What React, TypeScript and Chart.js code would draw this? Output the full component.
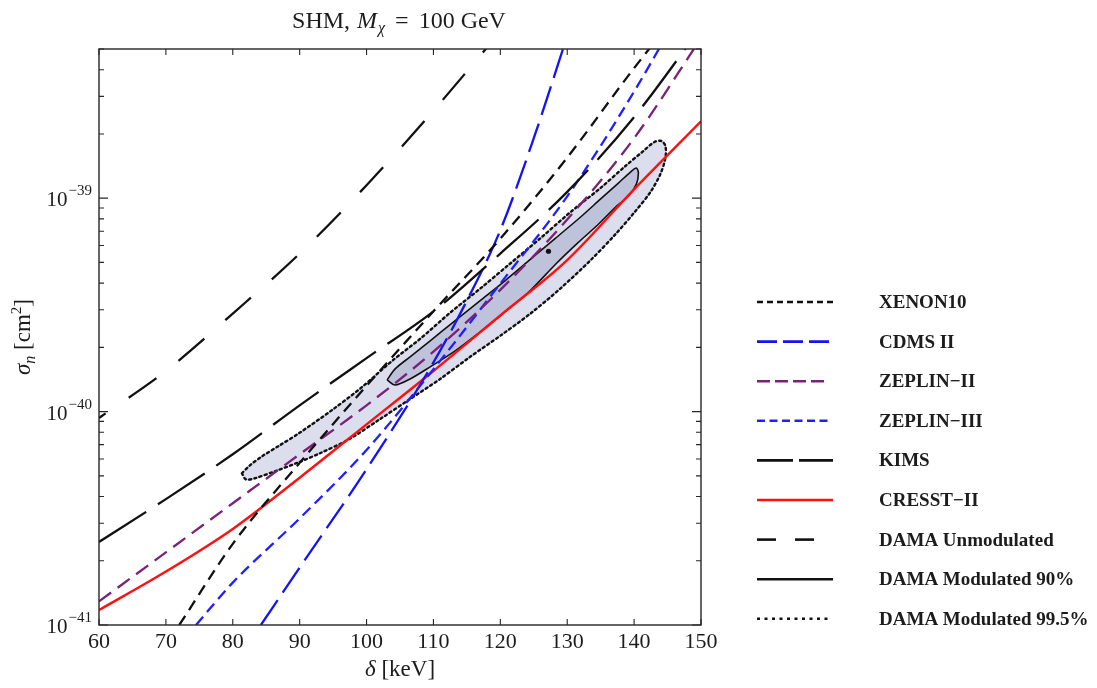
import React, { useEffect, useRef } from "react";
import { Chart, registerables } from "chart.js";

Chart.register(...registerables);

const SERIF = '"Liberation Serif", "Times New Roman", Times, serif';
const INK = "#1c1c1c";

// ---------------- axes ----------------
const deltaMin = 60;
const deltaMax = 150;
const sigmaMin = 1e-41;
const sigmaMax = 5e-39;
const xTickValues = [60, 70, 80, 90, 100, 110, 120, 130, 140, 150];
const xTickLabels = ["60", "70", "80", "90", "100", "110", "120", "130", "140", "150"];
const yDecades = [1e-41, 1e-40, 1e-39];
const yDecadeExponents = ["\u221241", "\u221240", "\u221239"];
const yMinorMultipliers = [2, 3, 4, 5, 6, 7, 8, 9];

// ---------------- series (δ in keV, σn in cm²) ----------------
const xenon10Delta = [72, 80, 90, 100, 110, 120, 130, 140, 150];
const xenon10Sigma = [1.0e-41, 2.4e-41, 5.75e-41, 1.32e-40, 2.95e-40, 6.46e-40, 1.55e-39, 4.07e-39, 1.0e-38];

const cdms2Delta = [84.2, 90, 100, 110, 115, 120, 125, 130];
const cdms2Sigma = [1.0e-41, 1.86e-41, 5.37e-41, 1.7e-40, 3.31e-40, 7.08e-40, 1.91e-39, 5.75e-39];

const zeplin2Delta = [60, 70, 80, 90, 100, 110, 120, 130, 140, 150];
const zeplin2Sigma = [1.29e-41, 2.19e-41, 3.72e-41, 6.31e-41, 1.07e-40, 1.91e-40, 3.72e-40, 7.94e-40, 1.91e-39, 5.62e-39];

const zeplin3Delta = [74.5, 80, 90, 100, 110, 120, 130, 140, 150];
const zeplin3Sigma = [1.0e-41, 1.58e-41, 3.16e-41, 6.61e-41, 1.58e-40, 3.98e-40, 1.02e-39, 3.16e-39, 1.12e-38];

const kimsDelta = [60, 70, 80, 90, 100, 110, 120, 130, 140, 150];
const kimsSigma = [2.45e-41, 3.89e-41, 6.31e-41, 1.07e-40, 1.78e-40, 2.95e-40, 5.5e-40, 1.07e-39, 2.4e-39, 6.31e-39];

const cresst2Delta = [60, 70, 80, 90, 100, 110, 120, 130, 140, 150];
const cresst2Sigma = [1.175e-41, 1.78e-41, 2.82e-41, 4.9e-41, 8.71e-41, 1.55e-40, 2.82e-40, 5.13e-40, 1.1e-39, 2.29e-39];

const damaUnmodDelta = [60, 70, 80, 90, 100, 110, 120];
const damaUnmodSigma = [9.33e-41, 1.55e-40, 2.88e-40, 5.5e-40, 1.15e-39, 2.57e-39, 6.03e-39];

// closed contours (upper edge left→right, then lower edge right→left)
const dama90Delta = [
  103.07, 104.27, 106.51, 109.51, 113.25, 116.99, 120.73, 124.48, 128.22, 131.96, 134.96, 137.65, 139.45, 140.34,
  140.64, 140.34, 139.15, 137.2, 134.66, 131.66, 128.22, 124.48, 120.73, 116.99, 113.25, 109.51, 106.51, 104.27, 103.07,
];
const dama90Sigma = [
  1.407e-40, 1.585e-40, 1.805e-40, 2.147e-40, 2.667e-40, 3.311e-40, 4.113e-40, 5.163e-40, 6.482e-40, 8.138e-40, 9.89e-40, 1.177e-39, 1.326e-39, 1.384e-39,
  1.311e-39, 1.164e-39, 1.022e-39, 9.07e-40, 7.544e-40, 6.208e-40, 4.891e-40, 3.691e-40, 2.939e-40, 2.366e-40, 1.926e-40, 1.62e-40, 1.422e-40, 1.333e-40, 1.407e-40,
];

const dama995Delta = [
  81.36, 82.56, 84.36, 87.05, 89.9, 94.84, 99.33, 103.82, 108.01, 112.5, 116.99, 121.48, 125.97, 130.46, 134.96, 138.7, 141.39, 143.03, 144.08, 144.68,
  144.68, 143.93, 142.43, 140.19, 137.2, 133.46, 128.97, 124.48, 119.99, 115.49, 111.0, 106.51, 102.02, 97.38, 93.04, 89.9, 86.3, 83.31, 81.96, 81.36,
];
const dama995Sigma = [
  5.14e-41, 5.6e-41, 6.17e-41, 6.96e-41, 7.92e-41, 1.017e-40, 1.304e-40, 1.729e-40, 2.193e-40, 2.908e-40, 3.771e-40, 4.944e-40, 6.482e-40, 8.593e-40, 1.115e-39, 1.415e-39, 1.664e-39, 1.834e-39, 1.854e-39, 1.757e-39,
  1.542e-39, 1.297e-39, 1.067e-39, 8.686e-40, 6.768e-40, 5.108e-40, 3.771e-40, 2.877e-40, 2.266e-40, 1.805e-40, 1.422e-40, 1.145e-40, 9.22e-41, 7.42e-41, 6.38e-41, 5.79e-41, 5.25e-41, 4.87e-41, 4.81e-41, 5.14e-41,
];

const bestFitDelta = [127.2];
const bestFitSigma = [5.64e-40];

// ---------------- styles ----------------
type Style = {
  label: string;
  color: string;
  width: number;
  dash: number[];
  dashOffset?: number;
  legendDash: number[];
  legendLen: number;
};

const styles: Record<string, Style> = {
  xenon: { label: "XENON10", color: "#111111", width: 2.3, dash: [11, 7], legendDash: [6, 4], legendLen: 76 },
  cdms: { label: "CDMS II", color: "#1414f0", width: 2.3, dash: [30, 9], legendDash: [20, 6], legendLen: 76 },
  zep2: { label: "ZEPLIN\u2212II", color: "#7a2278", width: 2.3, dash: [15, 8], legendDash: [13, 5], legendLen: 70 },
  zep3: { label: "ZEPLIN\u2212III", color: "#2020ff", width: 2.3, dash: [11, 6], legendDash: [8, 4.5], legendLen: 72 },
  kims: { label: "KIMS", color: "#111111", width: 2.3, dash: [56, 14], legendDash: [36, 6], legendLen: 76 },
  cresst: { label: "CRESST\u2212II", color: "#ff1010", width: 2.4, dash: [], legendDash: [], legendLen: 76 },
  unmod: { label: "DAMA Unmodulated", color: "#111111", width: 2.3, dash: [34, 28], dashOffset: 26, legendDash: [19, 19], legendLen: 62 },
  mod90: { label: "DAMA Modulated 90%", color: "#111111", width: 1.6, dash: [], legendDash: [], legendLen: 76 },
  mod995: { label: "DAMA Modulated 99.5%", color: "#111111", width: 2.4, dash: [2.2, 3.2], legendDash: [3, 4.5], legendLen: 72 },
};

const legendOrder = ["xenon", "cdms", "zep2", "zep3", "kims", "cresst", "unmod", "mod90", "mod995"];

function pts(xs: number[], ys: number[]) {
  return xs.map((x, i) => ({ x, y: ys[i] }));
}

function curve(key: string, xs: number[], ys: number[]) {
  const s = styles[key];
  return {
    label: s.label,
    data: pts(xs, ys),
    showLine: true,
    borderColor: s.color,
    borderWidth: s.width,
    borderDash: s.dash,
    borderDashOffset: s.dashOffset || 0,
    pointRadius: 0,
    pointHoverRadius: 0,
    fill: false,
    cubicInterpolationMode: "monotone" as const,
    order: 1,
  };
}

type Piece = { t: string; font: string; dy?: number; gap?: number };

function drawPieces(ctx: CanvasRenderingContext2D, pieces: Piece[], startX: number, baseY: number) {
  let x = startX;
  pieces.forEach((p) => {
    x += p.gap || 0;
    ctx.font = p.font;
    ctx.fillText(p.t, x, baseY + (p.dy || 0));
    x += ctx.measureText(p.t).width;
  });
}

function piecesWidth(ctx: CanvasRenderingContext2D, pieces: Piece[]) {
  let w = 0;
  pieces.forEach((p) => {
    ctx.font = p.font;
    w += ctx.measureText(p.t).width + (p.gap || 0);
  });
  return w;
}

const decorPlugin = {
  id: "decor",
  afterDraw(chart: any) {
    const ctx: CanvasRenderingContext2D = chart.ctx;
    const a = chart.chartArea;
    const xs = chart.scales.x;
    const ys = chart.scales.y;
    ctx.save();
    ctx.setLineDash([]);

    // frame
    ctx.strokeStyle = "#262626";
    ctx.lineWidth = 1.4;
    ctx.strokeRect(a.left, a.top, a.right - a.left, a.bottom - a.top);

    // inward ticks
    ctx.lineWidth = 1.1;
    ctx.beginPath();
    xTickValues.forEach((v) => {
      const p = xs.getPixelForValue(v);
      ctx.moveTo(p, a.bottom);
      ctx.lineTo(p, a.bottom - 6);
      ctx.moveTo(p, a.top);
      ctx.lineTo(p, a.top + 6);
    });
    yDecades.forEach((d) => {
      [1, ...yMinorMultipliers].forEach((m) => {
        const v = m * d;
        if (v > sigmaMax * 1.0001 || v < sigmaMin * 0.9999) return;
        const p = ys.getPixelForValue(v);
        const len = m === 1 ? 9 : 5;
        ctx.moveTo(a.left, p);
        ctx.lineTo(a.left + len, p);
        ctx.moveTo(a.right, p);
        ctx.lineTo(a.right - len, p);
      });
    });
    ctx.stroke();

    ctx.fillStyle = INK;
    ctx.textBaseline = "alphabetic";

    // x tick labels
    ctx.font = `22px ${SERIF}`;
    ctx.textAlign = "center";
    xTickValues.forEach((v, i) => {
      ctx.fillText(xTickLabels[i], xs.getPixelForValue(v), a.bottom + 23);
    });

    // y tick labels 10^n
    ctx.textAlign = "right";
    yDecades.forEach((d, i) => {
      const p = ys.getPixelForValue(d);
      const rightX = a.left - 7;
      ctx.font = `15px ${SERIF}`;
      const supW = ctx.measureText(yDecadeExponents[i]).width;
      ctx.fillText(yDecadeExponents[i], rightX, p - 3);
      ctx.font = `21px ${SERIF}`;
      ctx.fillText("10", rightX - supW - 1, p + 8);
    });

    ctx.textAlign = "left";
    // title
    const titleFont = `24px ${SERIF}`;
    const title: Piece[] = [
      { t: "SHM,", font: titleFont },
      { t: "M", font: `italic 24px ${SERIF}`, gap: 7 },
      { t: "\u03c7", font: `italic 16px ${SERIF}`, dy: 5, gap: 1 },
      { t: "=", font: titleFont, gap: 10 },
      { t: "100", font: titleFont, gap: 10 },
      { t: "GeV", font: titleFont, gap: 6 },
    ];
    const tw = piecesWidth(ctx, title);
    drawPieces(ctx, title, 399 - tw / 2, 28);

    // x axis title
    const xt: Piece[] = [
      { t: "\u03b4", font: `italic 23px ${SERIF}` },
      { t: " [keV]", font: `23px ${SERIF}` },
    ];
    const xtw = piecesWidth(ctx, xt);
    drawPieces(ctx, xt, (a.left + a.right) / 2 - xtw / 2, 676);

    // y axis title (rotated)
    const yt: Piece[] = [
      { t: "\u03c3", font: `italic 23px ${SERIF}` },
      { t: "n", font: `italic 16px ${SERIF}`, dy: 5 },
      { t: " [cm", font: `23px ${SERIF}` },
      { t: "2", font: `15px ${SERIF}`, dy: -9 },
      { t: "]", font: `23px ${SERIF}` },
    ];
    ctx.save();
    ctx.translate(22, 337);
    ctx.rotate(-Math.PI / 2);
    const ytw = piecesWidth(ctx, yt);
    drawPieces(ctx, yt, -ytw / 2, 8);
    ctx.restore();

    // legend
    const lx0 = 757;
    const textX = 879;
    const rowTop = 302;
    const rowStep = 39.6;
    legendOrder.forEach((key, i) => {
      const s = styles[key];
      const y = rowTop + i * rowStep;
      ctx.save();
      ctx.strokeStyle = s.color;
      ctx.lineWidth = 2.6;
      ctx.setLineDash(s.legendDash);
      ctx.beginPath();
      ctx.moveTo(lx0, y);
      ctx.lineTo(lx0 + s.legendLen, y);
      ctx.stroke();
      ctx.restore();
      ctx.fillStyle = INK;
      ctx.font = `bold 19px ${SERIF}`;
      ctx.textBaseline = "middle";
      ctx.fillText(s.label, textX, y + 1);
    });

    ctx.restore();
  },
};

export default function App() {
  const ref = useRef<HTMLCanvasElement>(null);

  useEffect(() => {
    const canvas = ref.current;
    if (!canvas) return;

    const datasets: any[] = [
      {
        label: styles.mod995.label,
        data: pts(dama995Delta, dama995Sigma),
        showLine: true,
        fill: "shape",
        backgroundColor: "rgba(186,190,220,0.5)",
        borderColor: styles.mod995.color,
        borderWidth: styles.mod995.width,
        borderDash: styles.mod995.dash,
        borderCapStyle: "round",
        tension: 0.3,
        pointRadius: 0,
        pointHoverRadius: 0,
        order: 20,
      },
      {
        label: styles.mod90.label,
        data: pts(dama90Delta, dama90Sigma),
        showLine: true,
        fill: "shape",
        backgroundColor: "rgba(150,155,192,0.42)",
        borderColor: styles.mod90.color,
        borderWidth: styles.mod90.width,
        borderDash: [],
        tension: 0.3,
        pointRadius: 0,
        pointHoverRadius: 0,
        order: 19,
      },
      curve("unmod", damaUnmodDelta, damaUnmodSigma),
      curve("kims", kimsDelta, kimsSigma),
      curve("xenon", xenon10Delta, xenon10Sigma),
      curve("zep2", zeplin2Delta, zeplin2Sigma),
      curve("zep3", zeplin3Delta, zeplin3Sigma),
      curve("cdms", cdms2Delta, cdms2Sigma),
      curve("cresst", cresst2Delta, cresst2Sigma),
      {
        label: "best fit",
        data: pts(bestFitDelta, bestFitSigma),
        showLine: false,
        pointRadius: 2.6,
        pointBackgroundColor: "#111",
        pointBorderWidth: 0,
        order: 0,
      },
    ];

    const chart = new Chart(canvas, {
      type: "scatter",
      data: { datasets },
      options: {
        responsive: false,
        devicePixelRatio: 1,
        animation: false,
        events: [],
        layout: { padding: { left: 99, top: 49, right: 396, bottom: 63 } },
        scales: {
          x: { type: "linear", min: deltaMin, max: deltaMax, display: false },
          y: { type: "logarithmic", min: sigmaMin, max: sigmaMax, display: false },
        },
        plugins: {
          legend: { display: false },
          tooltip: { enabled: false },
          title: { display: false },
        },
      },
      plugins: [decorPlugin],
    } as any);

    return () => chart.destroy();
  }, []);

  return (
    <div style={{ position: "fixed", left: 0, top: 0, width: 1097, height: 688, background: "#fff" }}>
      <canvas ref={ref} width={1097} height={688} style={{ display: "block" }} />
    </div>
  );
}
